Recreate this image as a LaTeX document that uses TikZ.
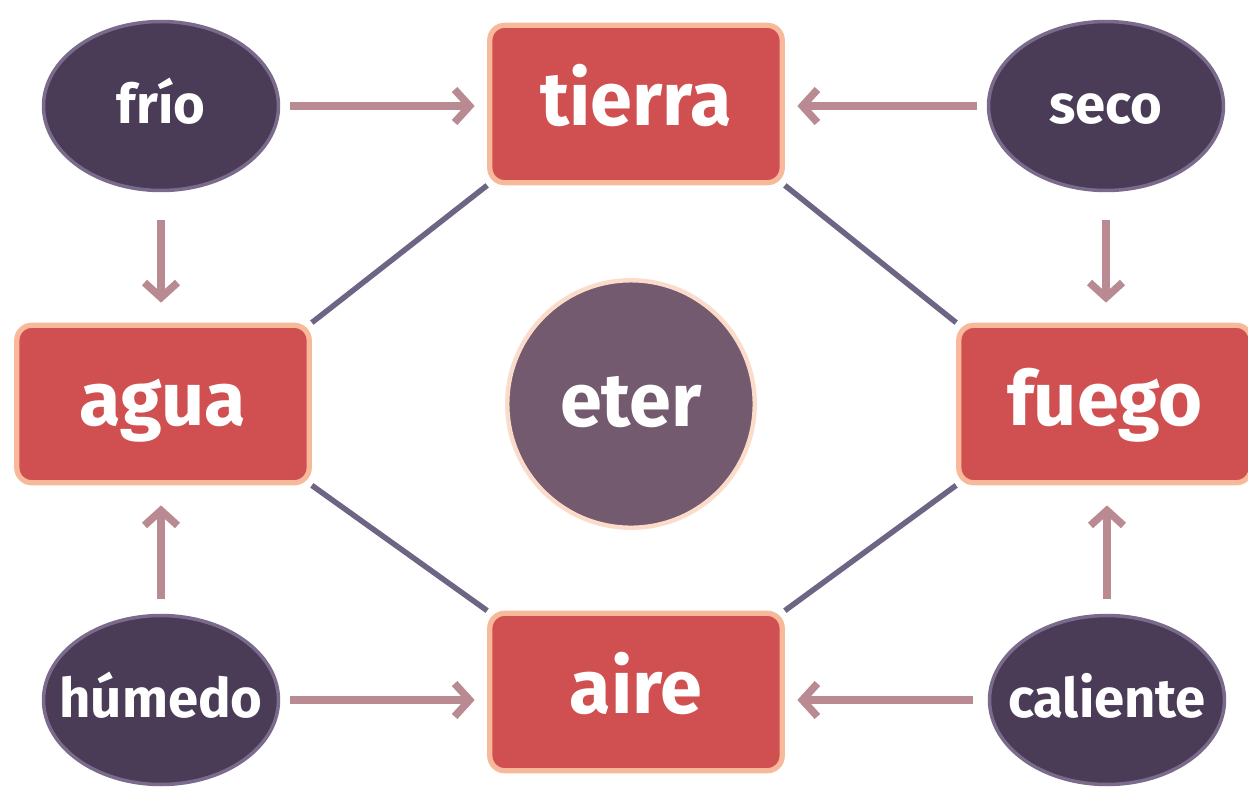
\documentclass[tikz,border=0pt]{standalone}
\usepackage{fontspec}
\setmainfont{Fira Sans}
\usetikzlibrary{shapes.geometric,arrows.meta,backgrounds}
\definecolor{boxred}{HTML}{D04F50}
\definecolor{peach}{HTML}{F8B99A}
\definecolor{dark}{HTML}{4A3B57}
\definecolor{darkedge}{HTML}{7A6A8C}
\definecolor{eterfill}{HTML}{735A6E}
\definecolor{eteredge}{HTML}{FBDCCB}
\definecolor{arrowc}{HTML}{B98A92}
\definecolor{linec}{HTML}{6E6585}
\newcommand{\zw}[1]{\makebox[0pt]{#1}}
\tikzset{
  elem/.style={rectangle, rounded corners=0.3cm, fill=boxred, draw=peach, line width=3pt,
    minimum width=5.85cm, minimum height=3.15cm, text=white, text height=1.1cm, text depth=0.26cm,
    font=\fontsize{43}{43}\selectfont\bfseries},
  qual/.style={ellipse, fill=dark, draw=darkedge, line width=2pt, inner sep=0pt,
    minimum width=4.7cm, minimum height=3.38cm, text=white, text height=0.85cm, text depth=0.17cm,
    font=\fontsize{31}{31}\selectfont\bfseries},
  etr/.style={circle, fill=eterfill, draw=eteredge, line width=2.5pt, minimum size=4.95cm,
    text=white, text height=1.1cm, text depth=0.2cm, inner sep=0pt,
    font=\fontsize{43}{43}\selectfont\bfseries},
  arr/.style={draw=arrowc, line width=0.15cm, -{Straight Barb[length=0.3cm,width=0.66cm,line width=0.15cm]}},
  link/.style={draw=linec, line width=0.11cm},
}
\begin{document}
\begin{tikzpicture}[x=0.02cm,y=-0.02cm]
\useasboundingbox (0,0) rectangle (1248,792);
\clip (0,0) rectangle (1248,792);
\node[elem] (tierra) at (636,104) {tierra};
\node[elem] (agua) at (163,404) {agua};
\node[elem] (fuego) at (1105,404) {fuego};
\node[elem] (aire) at (636,692) {aire};
\node[etr] (eter) at (631,404) {\zw{eter}};
\node[qual] (frio) at (161,106) {\zw{frío}};
\node[qual] (seco) at (1106,106) {\zw{seco}};
\node[qual] (humedo) at (161,700) {\zw{húmedo}};
\node[qual] (caliente) at (1107,700) {\zw{caliente}};
\begin{scope}[on background layer]
\draw[link] (tierra.south west) -- (agua.north east);
\draw[link] (tierra.south east) -- (fuego.north west);
\draw[link] (aire.north west) -- (agua.south east);
\draw[link] (aire.north east) -- (fuego.south west);
\end{scope}
% horizontal arrows
\draw[arr, shorten <=0.2cm, shorten >=0.25cm] (frio.east) -- (frio.east -| tierra.west);
\draw[arr, shorten <=0.2cm, shorten >=0.25cm] (seco.west) -- (seco.west -| tierra.east);
\draw[arr, shorten <=0.2cm, shorten >=0.25cm] (humedo.east) -- (humedo.east -| aire.west);
\draw[arr, shorten <=0.3cm, shorten >=0.25cm] (caliente.west) -- (caliente.west -| aire.east);
% vertical arrows
\draw[arr, shorten <=0.56cm, shorten >=0.4cm] (frio.south) -- (frio.south |- agua.north);
\draw[arr, shorten <=0.56cm, shorten >=0.4cm] (seco.south) -- (seco.south |- fuego.north);
\draw[arr, shorten <=0.3cm, shorten >=0.4cm] (humedo.north) -- (humedo.north |- agua.south);
\draw[arr, shorten <=0.3cm, shorten >=0.4cm] (caliente.north) -- (caliente.north |- fuego.south);
\end{tikzpicture}
\end{document}
